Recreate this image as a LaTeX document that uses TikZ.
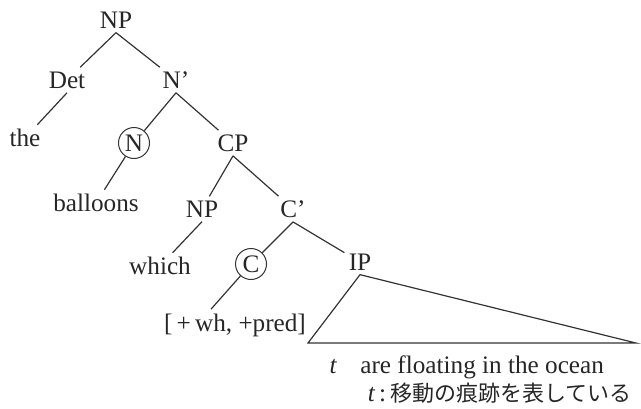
\documentclass[tikz,border=0pt]{standalone}
\usepackage{fontspec}
\setmainfont{Liberation Serif}
\newfontfamily\jpfont{Noto Sans CJK JP}
\begin{document}
\begin{tikzpicture}[x=0.5pt,y=-0.5pt,
    every node/.style={font=\fontsize{12.6}{15}\selectfont, text=black!85, inner sep=2pt},
    circled/.style={circle, draw=black!80, line width=0.5pt, inner sep=0pt, minimum size=15.5pt},
    branch/.style={draw=black!80, line width=0.6pt}]
    % Fix the page size
    \useasboundingbox (0,0) rectangle (641,408);

    % Place the labels of the tree
    \node (NP)   at (116,20)  {NP};
    \node (Det)  at (67,80)   {Det};
    \node (Nbar) at (176,80)  {N'};
    \node (the)  at (25,138)  {the};
    \node[circled] (N) at (134,143) {N};
    \node (CP)   at (233,143) {CP};
    \node (ball) at (96,203)  {balloons};
    \node (NPb)  at (202,209) {NP};
    \node (Cbar) at (293,209) {C'};
    \node (wh)   at (160,266) {which};
    \node[circled] (C) at (251,264) {C};
    \node (IP)   at (360,262) {IP};
    \node (feat) at (235,325) {[\,+\,wh, +pred]};

    % Draw the branches
    \draw[branch] (NP.south) -- (Det);
    \draw[branch] (NP.south) -- (Nbar);
    \draw[branch] (Det.south) -- (the);
    \draw[branch] (Nbar.south) -- (N);
    \draw[branch] (Nbar.south) -- (CP);
    \draw[branch] (N) -- (ball);
    \draw[branch] (CP.south) -- (NPb);
    \draw[branch] (CP.south) -- (Cbar);
    \draw[branch] (NPb.south) -- (wh);
    \draw[branch] (Cbar.south) -- (C);
    \draw[branch] (Cbar.south) -- (IP);
    \draw[branch] (C) -- ([xshift=-12pt]feat.north);

    % Triangle under IP
    \coordinate (triL) at (308,343);
    \coordinate (triR) at (636,343);
    \draw[branch] (IP.south) -- (triL) -- (triR) -- cycle;

    % Words under the triangle and the note
    \node (trace) at (333,367) {\itshape t};
    \node[anchor=west] (rest) at (356,367) {are floating in the ocean};
    \node[anchor=east] (note) at (636,393) {\itshape t\upshape\,:\,\jpfont\fontsize{11}{14}\selectfont 移動の痕跡を表している};
\end{tikzpicture}
\end{document}
